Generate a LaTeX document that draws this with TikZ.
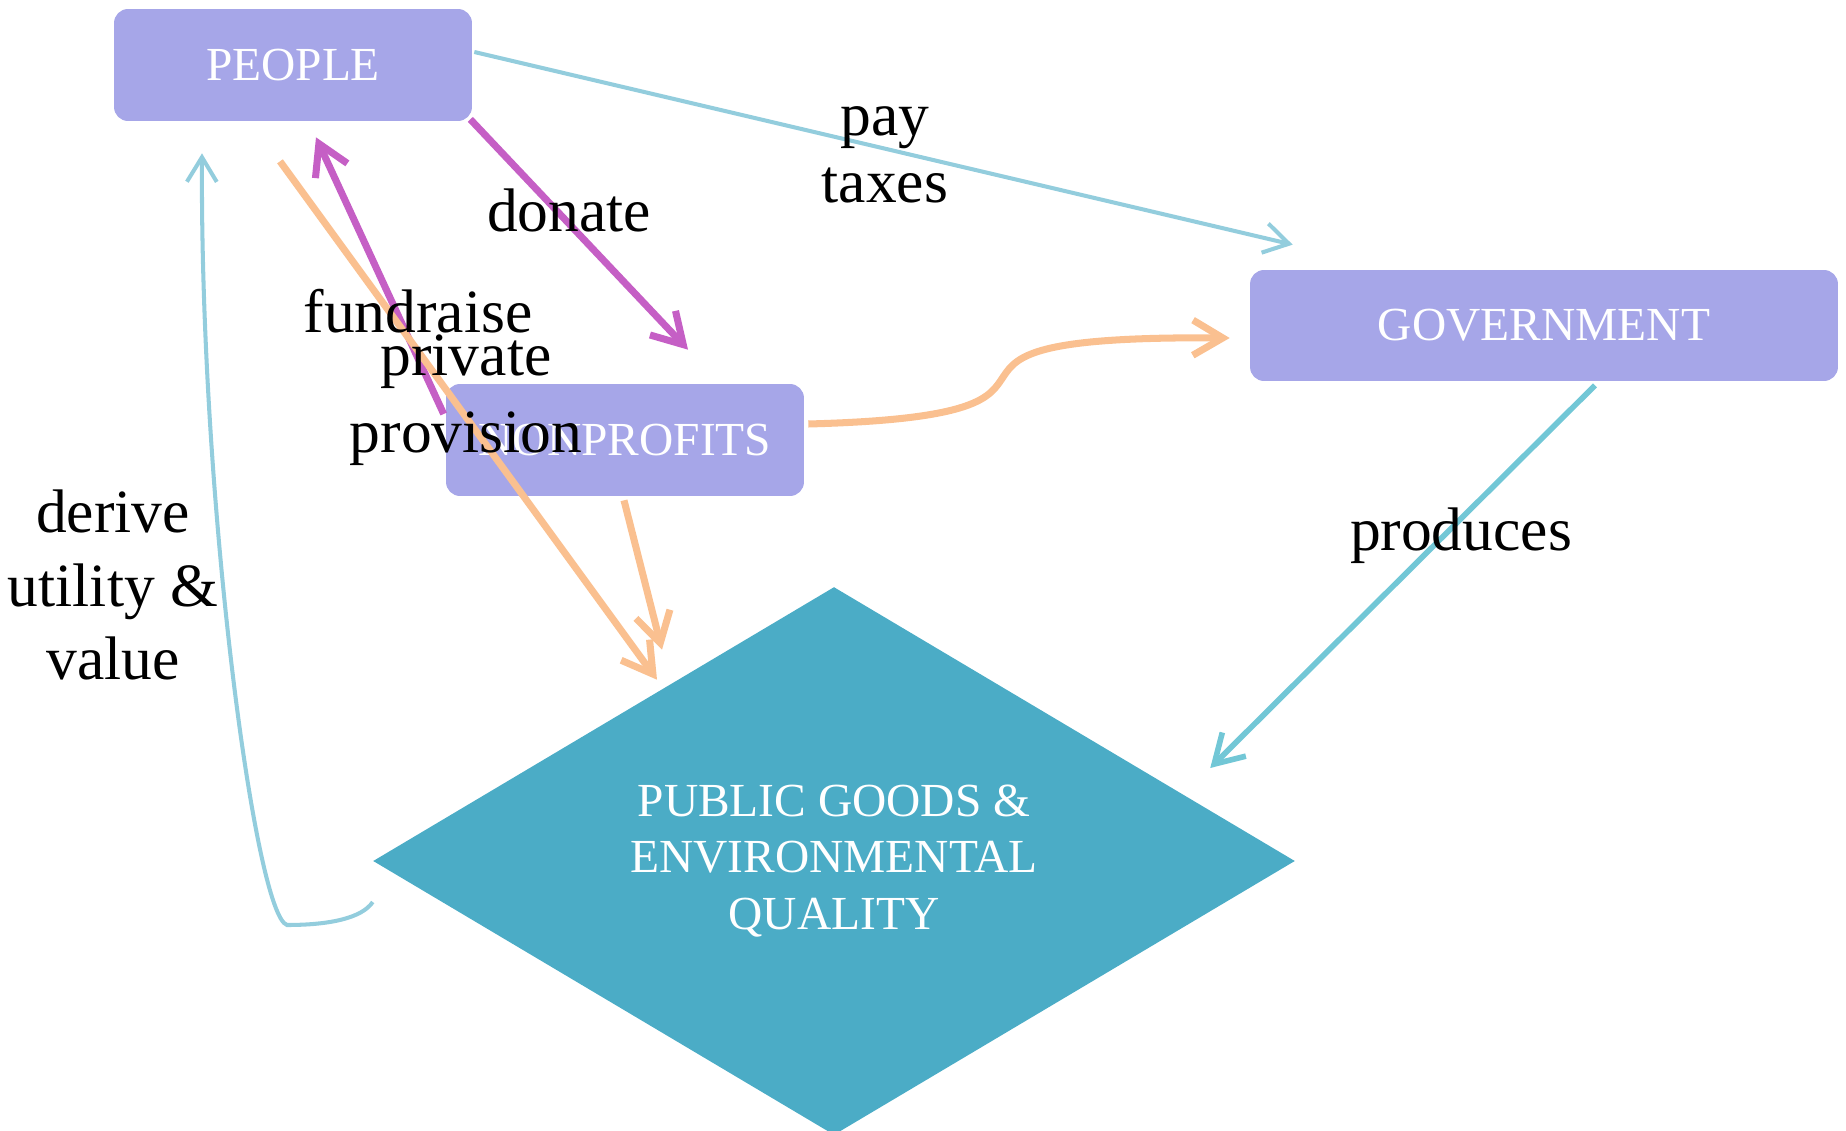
\documentclass[tikz,border=0pt]{standalone}
\usepackage{fontspec}
\setmainfont{Liberation Serif}
\usetikzlibrary{shapes.geometric,arrows.meta,calc}

\definecolor{boxfill}{HTML}{A6A6E8}
\definecolor{goodsfill}{HTML}{4BACC6}
\definecolor{taxblue}{HTML}{93CDDD}
\definecolor{prodteal}{HTML}{72C7D6}
\definecolor{giftmag}{HTML}{C55FC5}
\definecolor{provorange}{HTML}{FAC090}

\begin{document}
\begin{tikzpicture}[x=0.02cm, y=-0.02cm,
  actor/.style={rectangle, rounded corners=0.28cm, fill=boxfill, text=white,
    font=\fontsize{27}{32}\selectfont, inner sep=0pt},
  goods/.style={diamond, fill=goodsfill, text=white, align=center,
    font=\fontsize{27}{32}\selectfont, minimum width=18.44cm,
    minimum height=10.96cm, shape aspect=1.68, inner sep=0pt},
  lbl/.style={font=\fontsize{35}{42}\selectfont, align=center, inner sep=0pt},
  thickflow/.style={line width=4pt, -{Straight Barb[length=17pt,width=20pt]}},
  thinflow/.style={line width=2.3pt, -{Straight Barb[length=14pt,width=17pt]}},
  midflow/.style={line width=3.2pt, -{Straight Barb[length=16pt,width=19pt]}},
]
\useasboundingbox (0,0) rectangle (1846,1131);

% actors and the shared outcome
\node[actor, minimum width=7.16cm, minimum height=2.24cm] (people) at (293,65) {PEOPLE};
\node[actor, minimum width=11.76cm, minimum height=2.22cm] (gov) at (1544,325.5) {GOVERNMENT};
\node[actor, minimum width=7.16cm, minimum height=2.24cm] (np) at (625,440) {NONPROFITS};
\node[goods] (pg) at (834,861) {PUBLIC GOODS \&\\ENVIRONMENTAL\\QUALITY};

% flows
\draw[thinflow, taxblue] ([shift={(2,-13)}]people.east) -- ([shift={(43,-25)}]gov.north west);
\draw[thickflow, giftmag] ([shift={(-2,-2)}]people.south east) -- ([shift={(63,-34)}]np.north);
\draw[thickflow, giftmag] ([shift={(-2,-26)}]np.west) -- ([shift={(23,16)}]people.south);
\draw[thickflow, provorange] ([shift={(-13,40)}]people.south) -- ([shift={(-177,93)}]pg.north);
\draw[thickflow, provorange] ([shift={(-1,4)}]np.south) -- ([shift={(-172,63)}]pg.north);
\draw[thickflow, provorange] ([shift={(4,-16)}]np.east)
  .. controls (1150,415) and (850,335) .. ([shift={(-20,12.5)}]gov.west);
\draw[midflow, prodteal] ([shift={(51,4)}]gov.south) -- ([shift={(-85,-93)}]pg.east);
\draw[thinflow, taxblue] ([shift={(0,41)}]pg.west)
  .. controls (362,918) and (330,925) .. (287,925)
  .. controls (255,915) and (200,500) .. ([shift={(-91,32)}]people.south);

% flow labels
\node[lbl, font=\fontsize{35}{38}\selectfont] (taxlbl) at (885,155) {pay\\taxes};
\node[lbl] (donatelbl) at (569,210) {donate};
\node[lbl] (fundlbl) at (418,311) {fundraise};
\node[lbl, font=\fontsize{35}{44}\selectfont] (provlbl) at (466,400) {private\\provision};
\node[lbl] (prodlbl) at (1461,536) {produces};
\node[lbl, font=\fontsize{35}{42}\selectfont] (utillbl) at (113,585) {derive\\utility \&\\value};
\end{tikzpicture}
\end{document}
